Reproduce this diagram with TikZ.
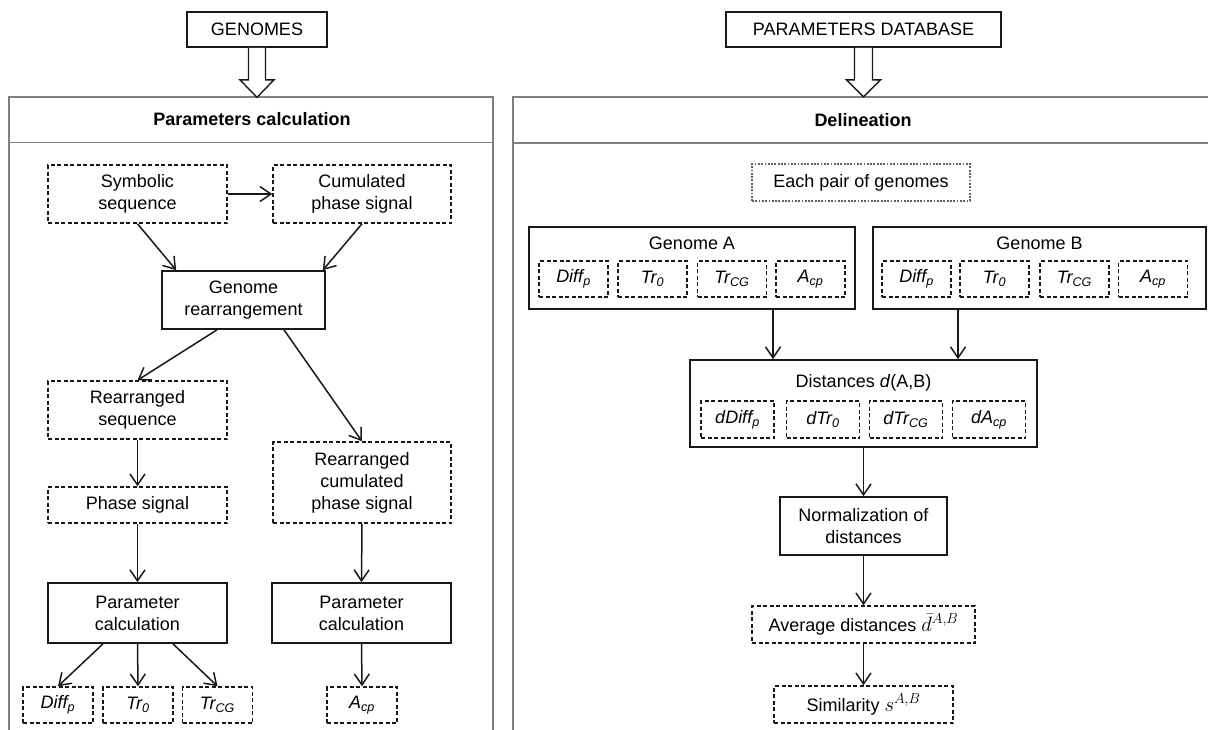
\documentclass[tikz,border=0pt]{standalone}
\usepackage{fontspec}
\setmainfont{Liberation Sans}
\usetikzlibrary{arrows.meta}
\newcommand{\bigmath}[1]{{\fontsize{22}{22}\selectfont$#1$}}
\begin{document}
\begin{tikzpicture}[x=1pt,y=1pt,
 txt/.style={font=\fontsize{18}{22}\selectfont, align=center, inner sep=0pt},
 solidbox/.style={txt, draw=black!90, line width=1.7pt, rectangle},
 dashbox/.style={txt, draw=black!90, line width=1.5pt, dash pattern=on 4pt off 2.5pt},
 dotbox/.style={txt, draw=black!62, line width=2.4pt, dash pattern=on 1.8pt off 1.5pt},
 arr/.style={draw=black!90, line width=1.5pt, -{Straight Barb[length=11pt,width=15pt,line width=1.5pt]}},
 panel/.style={draw=black!50, line width=1.7pt},
 hollow/.style={draw=black!90, line width=1.4pt, fill=white, line join=miter},
 ptitle/.style={font=\fontsize{18}{22}\selectfont\bfseries, anchor=base, inner sep=0pt},
 sub/.style={dashbox, minimum width=69pt, minimum height=36pt, font=\fontsize{18}{22}\selectfont\itshape},
 dsub/.style={dashbox, minimum width=73pt, minimum height=37pt, font=\fontsize{18}{22}\selectfont\itshape},
]
\useasboundingbox (0,0) rectangle (1208,-729);
\fill[white] (0,0) rectangle (1208,-729);

% panels
\draw[panel] (9,-745) -- (9,-97) -- (493,-97) -- (493,-745);
\draw[panel] (9,-142.5) -- (493,-142.5);
\draw[panel] (513,-745) -- (513,-97) -- (1230,-97);
\draw[panel] (513,-143) -- (1230,-143);

% top boxes
\node[solidbox, minimum width=140pt, minimum height=35pt] (genomes) at (257,-29.5) {GENOMES};
\node[solidbox, minimum width=275pt, minimum height=35pt] (pd) at (863.5,-29.5) {PARAMETERS DATABASE};

% hollow arrows
\draw[hollow] (genomes.south) ++(-8.5,0) -- ++(0,-32) -- ++(-8.5,0) -- ++(17,-17.5) -- ++(17,17.5) -- ++(-8.5,0) -- ++(0,32);
\draw[hollow] (pd.south) ++(-9,0) -- ++(0,-32) -- ++(-8,0) -- ++(17,-17) -- ++(17,17) -- ++(-8,0) -- ++(0,32);

% panel titles
\node[ptitle] (t1) at (252,-125.5) {Parameters calculation};
\node[ptitle] (t2) at (863,-126) {Delineation};

% left panel
\node[dashbox, minimum width=179pt, minimum height=58pt] (sym) at (137.5,-194) {Symbolic\\sequence};
\node[dashbox, minimum width=178pt, minimum height=58pt] (cum) at (362,-194) {Cumulated\\phase signal};
\node[solidbox, minimum width=163pt, minimum height=58pt] (rear) at (243.5,-300) {Genome\\rearrangement};
\node[dashbox, minimum width=179pt, minimum height=58pt] (rseq) at (137.5,-410) {Rearranged\\sequence};
\node[dashbox, minimum width=178pt, minimum height=81pt] (rcum) at (362,-482.5) {Rearranged\\cumulated\\phase signal};
\node[dashbox, minimum width=179pt, minimum height=36pt] (phase) at (137.5,-505) {Phase signal};
\node[solidbox, minimum width=179pt, minimum height=60pt] (pcl) at (137.5,-613) {Parameter\\calculation};
\node[solidbox, minimum width=179pt, minimum height=60pt] (pcr) at (361.5,-613) {Parameter\\calculation};
\node[sub, minimum width=70pt] (diff) at (58,-705) {Diff\textsubscript{p}};
\node[sub, minimum width=70pt] (tr0) at (138,-705) {Tr\textsubscript{0}};
\node[sub, minimum width=70pt] (trcg) at (217.5,-705) {Tr\textsubscript{CG}};
\node[sub, minimum width=70pt] (acp) at (362,-705) {A\textsubscript{cp}};

\draw[arr] (sym.east) -- (cum.west);
\draw[arr] (sym.south) -- ([xshift=15pt]rear.north west);
\draw[arr] (cum.south) -- ([xshift=-3pt]rear.north east);
\draw[arr] ([xshift=-26.5pt]rear.south) -- (rseq.north);
\draw[arr] ([xshift=40.5pt]rear.south) -- (rcum.north);
\draw[arr] (rseq.south) -- (phase.north);
\draw[arr] (phase.south) -- (pcl.north);
\draw[arr] (rcum.south) -- (pcr.north);
\draw[arr] ([xshift=-34.5pt]pcl.south) -- (diff.north);
\draw[arr] (pcl.south) -- (tr0.north);
\draw[arr] ([xshift=35.5pt]pcl.south) -- (trcg.north);
\draw[arr] (pcr.south) -- (acp.north);

% right panel
\node[dotbox, minimum width=218pt, minimum height=37pt] (pair) at (861,-182.5) {Each pair of genomes};

\node[solidbox, minimum width=326pt, minimum height=82pt,
  label={[txt, anchor=base, yshift=-23pt]north:Genome A}] (ga) at (692,-268) {};
\node[sub] (ga1) at (573.5,-279) {Diff\textsubscript{p}};
\node[sub] (ga2) at (652.5,-279) {Tr\textsubscript{0}};
\node[sub] (ga3) at (732,-279) {Tr\textsubscript{CG}};
\node[sub] (ga4) at (810.5,-279) {A\textsubscript{cp}};

\node[solidbox, minimum width=333pt, minimum height=82pt,
  label={[txt, anchor=base, yshift=-23pt]north:Genome B}] (gb) at (1039.5,-268) {};
\node[sub] (gb1) at (916.5,-279) {Diff\textsubscript{p}};
\node[sub] (gb2) at (994.5,-279) {Tr\textsubscript{0}};
\node[sub] (gb3) at (1074.5,-279) {Tr\textsubscript{CG}};
\node[sub] (gb4) at (1153,-279) {A\textsubscript{cp}};

\node[solidbox, minimum width=347pt, minimum height=87pt,
  label={[txt, anchor=base, yshift=-28pt]north:Distances \textit{d}(A,B)}] (dist) at (863.5,-403.5) {};
\node[dsub] (d1) at (737.5,-419.5) {dDiff\textsubscript{p}};
\node[dsub] (d2) at (823,-419.5) {dTr\textsubscript{0}};
\node[dsub] (d3) at (906,-419.5) {dTr\textsubscript{CG}};
\node[dsub] (d4) at (989,-419.5) {dA\textsubscript{cp}};

\node[solidbox, minimum width=167pt, minimum height=58pt] (norm) at (863.5,-526) {Normalization of\\distances};
\node[dashbox, minimum width=223pt, minimum height=37pt] (avg) at (863.5,-624.5) {Average distances \bigmath{\bar{d}^{A,B}}};
\node[dashbox, minimum width=179pt, minimum height=37pt] (sim) at (863.5,-704.5) {Similarity \bigmath{s^{A,B}}};

\draw[arr] ([xshift=81pt]ga.south) -- ([xshift=81pt]ga.south |- dist.north);
\draw[arr] ([xshift=-81.5pt]gb.south) -- ([xshift=-81.5pt]gb.south |- dist.north);
\draw[arr] (dist.south) -- (norm.north);
\draw[arr] (norm.south) -- (avg.north);
\draw[arr] (avg.south) -- (sim.north);
\end{tikzpicture}
\end{document}
